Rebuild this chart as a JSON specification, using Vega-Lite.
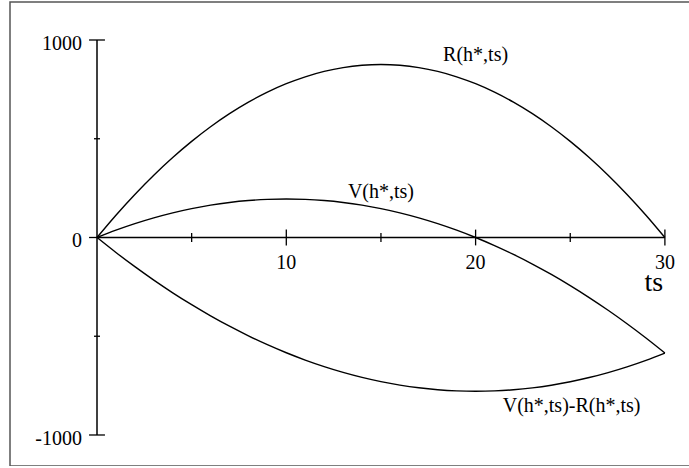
{
  "$schema": "https://vega.github.io/schema/vega-lite/v6.json",
  "width": 680,
  "height": 464,
  "autosize": {"type": "none"},
  "padding": {"left": 10, "top": 2, "right": 0, "bottom": 0},
  "background": "white",
  "config": {"view": {"stroke": "#555555", "strokeWidth": 1.5}, "text": {"font": "Liberation Serif", "color": "black"}},
  "datasets": {
    "curves": [
      {"ts": 0, "v": 0, "s": "R"}, {"ts": 1, "v": 112.9, "s": "R"}, {"ts": 2, "v": 218.0, "s": "R"}, {"ts": 3, "v": 315.3, "s": "R"}, {"ts": 4, "v": 404.9, "s": "R"}, {"ts": 5, "v": 486.6, "s": "R"}, {"ts": 6, "v": 560.6, "s": "R"}, {"ts": 7, "v": 626.8, "s": "R"}, {"ts": 8, "v": 685.2, "s": "R"}, {"ts": 9, "v": 735.8, "s": "R"}, {"ts": 10, "v": 778.6, "s": "R"}, {"ts": 11, "v": 813.6, "s": "R"}, {"ts": 12, "v": 840.9, "s": "R"}, {"ts": 13, "v": 860.4, "s": "R"}, {"ts": 14, "v": 872.0, "s": "R"}, {"ts": 15, "v": 875.9, "s": "R"}, {"ts": 16, "v": 872.0, "s": "R"}, {"ts": 17, "v": 860.4, "s": "R"}, {"ts": 18, "v": 840.9, "s": "R"}, {"ts": 19, "v": 813.6, "s": "R"}, {"ts": 20, "v": 778.6, "s": "R"}, {"ts": 21, "v": 735.8, "s": "R"}, {"ts": 22, "v": 685.2, "s": "R"}, {"ts": 23, "v": 626.8, "s": "R"}, {"ts": 24, "v": 560.6, "s": "R"}, {"ts": 25, "v": 486.6, "s": "R"}, {"ts": 26, "v": 404.9, "s": "R"}, {"ts": 27, "v": 315.3, "s": "R"}, {"ts": 28, "v": 218.0, "s": "R"}, {"ts": 29, "v": 112.9, "s": "R"}, {"ts": 30, "v": 0, "s": "R"},
      {"ts": 0, "v": 0, "s": "V"}, {"ts": 1, "v": 37.05, "s": "V"}, {"ts": 2, "v": 70.2, "s": "V"}, {"ts": 3, "v": 99.45, "s": "V"}, {"ts": 4, "v": 124.8, "s": "V"}, {"ts": 5, "v": 146.25, "s": "V"}, {"ts": 6, "v": 163.8, "s": "V"}, {"ts": 7, "v": 177.45, "s": "V"}, {"ts": 8, "v": 187.2, "s": "V"}, {"ts": 9, "v": 193.05, "s": "V"}, {"ts": 10, "v": 195, "s": "V"}, {"ts": 11, "v": 193.05, "s": "V"}, {"ts": 12, "v": 187.2, "s": "V"}, {"ts": 13, "v": 177.45, "s": "V"}, {"ts": 14, "v": 163.8, "s": "V"}, {"ts": 15, "v": 146.25, "s": "V"}, {"ts": 16, "v": 124.8, "s": "V"}, {"ts": 17, "v": 99.45, "s": "V"}, {"ts": 18, "v": 70.2, "s": "V"}, {"ts": 19, "v": 37.05, "s": "V"}, {"ts": 20, "v": 0, "s": "V"}, {"ts": 21, "v": -40.95, "s": "V"}, {"ts": 22, "v": -85.8, "s": "V"}, {"ts": 23, "v": -134.55, "s": "V"}, {"ts": 24, "v": -187.2, "s": "V"}, {"ts": 25, "v": -243.75, "s": "V"}, {"ts": 26, "v": -304.2, "s": "V"}, {"ts": 27, "v": -368.55, "s": "V"}, {"ts": 28, "v": -436.8, "s": "V"}, {"ts": 29, "v": -508.95, "s": "V"}, {"ts": 30, "v": -585, "s": "V"},
      {"ts": 0, "v": 0, "s": "D"}, {"ts": 1, "v": -75.85, "s": "D"}, {"ts": 2, "v": -147.8, "s": "D"}, {"ts": 3, "v": -215.85, "s": "D"}, {"ts": 4, "v": -280.1, "s": "D"}, {"ts": 5, "v": -340.35, "s": "D"}, {"ts": 6, "v": -396.8, "s": "D"}, {"ts": 7, "v": -449.35, "s": "D"}, {"ts": 8, "v": -498.0, "s": "D"}, {"ts": 9, "v": -542.75, "s": "D"}, {"ts": 10, "v": -583.6, "s": "D"}, {"ts": 11, "v": -620.55, "s": "D"}, {"ts": 12, "v": -653.7, "s": "D"}, {"ts": 13, "v": -682.95, "s": "D"}, {"ts": 14, "v": -708.2, "s": "D"}, {"ts": 15, "v": -729.65, "s": "D"}, {"ts": 16, "v": -747.2, "s": "D"}, {"ts": 17, "v": -760.95, "s": "D"}, {"ts": 18, "v": -770.7, "s": "D"}, {"ts": 19, "v": -776.55, "s": "D"}, {"ts": 20, "v": -778.6, "s": "D"}, {"ts": 21, "v": -776.75, "s": "D"}, {"ts": 22, "v": -771.0, "s": "D"}, {"ts": 23, "v": -761.35, "s": "D"}, {"ts": 24, "v": -747.8, "s": "D"}, {"ts": 25, "v": -730.35, "s": "D"}, {"ts": 26, "v": -709.1, "s": "D"}, {"ts": 27, "v": -683.85, "s": "D"}, {"ts": 28, "v": -654.8, "s": "D"}, {"ts": 29, "v": -621.85, "s": "D"}, {"ts": 30, "v": -585, "s": "D"}
    ],
    "axes": [
      {"x": 0, "x2": 0, "y": -1000, "y2": 1000},
      {"x": 0, "x2": 30, "y": 0, "y2": 0}
    ],
    "xticks": [
      {"ts": 5, "lo": -23, "hi": 23},
      {"ts": 10, "lo": -40, "hi": 40},
      {"ts": 15, "lo": -23, "hi": 23},
      {"ts": 20, "lo": -40, "hi": 40},
      {"ts": 25, "lo": -23, "hi": 23},
      {"ts": 30, "lo": -40, "hi": 40}
    ],
    "yticks": [
      {"v": 1000, "lo": -0.42, "hi": 0.42},
      {"v": 500, "lo": -0.16, "hi": 0.16},
      {"v": 0, "lo": -0.42, "hi": 0},
      {"v": -500, "lo": -0.16, "hi": 0.16},
      {"v": -1000, "lo": -0.42, "hi": 0.42}
    ],
    "xlabels": [
      {"ts": 10, "t": "10"}, {"ts": 20, "t": "20"}, {"ts": 30, "t": "30"}
    ],
    "ylabels": [
      {"v": 1000, "t": "1000"}, {"v": 0, "t": "0"}, {"v": -1000, "t": "-1000"}
    ],
    "notes": [
      {"ts": 20, "v": 896, "t": "R(h*,ts)"},
      {"ts": 15, "v": 202, "t": "V(h*,ts)"},
      {"ts": 25.07, "v": -886, "t": "V(h*,ts)-R(h*,ts)"}
    ],
    "title": [
      {"ts": 29.42, "v": -272, "t": "ts"}
    ]
  },
  "layer": [
    {
      "data": {"name": "axes"},
      "mark": {"type": "rule", "color": "black", "strokeWidth": 1.5},
      "encoding": {
        "x": {"field": "x", "type": "quantitative", "scale": {"domain": [-4.596, 31.326], "nice": false, "zero": false}, "axis": null},
        "x2": {"field": "x2"},
        "y": {"field": "y", "type": "quantitative", "scale": {"domain": [-1157, 1192.4], "nice": false, "zero": false}, "axis": null},
        "y2": {"field": "y2"}
      }
    },
    {
      "data": {"name": "xticks"},
      "mark": {"type": "rule", "color": "black", "strokeWidth": 1.3},
      "encoding": {
        "x": {"field": "ts", "type": "quantitative"},
        "y": {"field": "lo", "type": "quantitative"},
        "y2": {"field": "hi"}
      }
    },
    {
      "data": {"name": "yticks"},
      "mark": {"type": "rule", "color": "black", "strokeWidth": 1.3},
      "encoding": {
        "y": {"field": "v", "type": "quantitative"},
        "x": {"field": "lo", "type": "quantitative"},
        "x2": {"field": "hi"}
      }
    },
    {
      "data": {"name": "curves"},
      "mark": {"type": "line", "color": "black", "strokeWidth": 1.4, "interpolate": "monotone"},
      "encoding": {
        "x": {"field": "ts", "type": "quantitative"},
        "y": {"field": "v", "type": "quantitative"},
        "detail": {"field": "s"}
      }
    },
    {
      "data": {"name": "xlabels"},
      "mark": {"type": "text", "fontSize": 20, "align": "center", "baseline": "alphabetic", "dy": 32},
      "encoding": {
        "x": {"field": "ts", "type": "quantitative"},
        "y": {"datum": 0, "type": "quantitative"},
        "text": {"field": "t"}
      }
    },
    {
      "data": {"name": "ylabels"},
      "mark": {"type": "text", "fontSize": 20, "align": "right", "baseline": "alphabetic", "dx": -15, "dy": 10},
      "encoding": {
        "x": {"datum": 0, "type": "quantitative"},
        "y": {"field": "v", "type": "quantitative"},
        "text": {"field": "t"}
      }
    },
    {
      "data": {"name": "notes"},
      "mark": {"type": "text", "fontSize": 20, "align": "center", "baseline": "alphabetic"},
      "encoding": {
        "x": {"field": "ts", "type": "quantitative"},
        "y": {"field": "v", "type": "quantitative"},
        "text": {"field": "t"}
      }
    },
    {
      "data": {"name": "title"},
      "mark": {"type": "text", "fontSize": 28, "align": "center", "baseline": "alphabetic"},
      "encoding": {
        "x": {"field": "ts", "type": "quantitative"},
        "y": {"field": "v", "type": "quantitative"},
        "text": {"field": "t"}
      }
    }
  ]
}
